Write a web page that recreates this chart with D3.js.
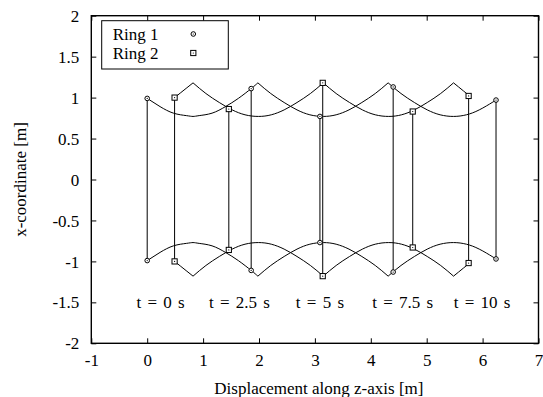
<!DOCTYPE html>
<html>
<head>
<meta charset="utf-8">
<script src="https://cdn.jsdelivr.net/npm/d3@7"></script>
<style>
  html, body { margin: 0; padding: 0; background: #fff; }
  svg { display: block; }
  svg text { font-family: 'Liberation Serif', 'DejaVu Serif', serif !important; }
</style>
</head>
<body>
<svg id="chart" width="543" height="397"></svg>
<script>
// ---------------- data ----------------
const xTicks = [-1, 0, 1, 2, 3, 4, 5, 6, 7];
const yTicks = [-2, -1.5, -1, -0.5, 0, 0.5, 1, 1.5, 2];
const seriesNames = ["Ring 1", "Ring 2"];

// ring positions (z, x) at t = 0, 2.5, 5, 7.5, 10 s
const ring1Z = [0.00, 1.86, 3.09, 4.40, 6.24];
const ring1Top = [0.99, 1.11, 0.77, 1.13, 0.97];
const ring1Bottom = [-0.99, -1.11, -0.77, -1.13, -0.97];
const ring2Z = [0.49, 1.46, 3.14, 4.75, 5.75];
const ring2Top = [1.00, 0.86, 1.18, 0.83, 1.02];
const ring2Bottom = [-1.00, -0.86, -1.18, -0.83, -1.02];

// time labels
const timeLabels = ["t = 0 s", "t = 2.5 s", "t = 5 s", "t = 7.5 s", "t = 10 s"];
const timeLabelZ = [0.24, 1.65, 3.09, 4.57, 5.99];
const timeLabelX = -1.5;

// trajectory of top/bottom points of each ring (segments split at cusps)
const ring1TrajZ = [
  [0.00, 0.23, 0.47, 0.70, 0.82, 0.93, 1.16, 1.40, 1.63, 1.86, 1.98],
  [1.98, 2.21, 2.45, 2.68, 2.91, 3.15, 3.38, 3.61, 3.84, 4.08, 4.31],
  [4.31, 4.54, 4.78, 5.01, 5.24, 5.48, 5.71, 5.94, 6.17, 6.24]
];
const ring1TrajTop = [
  [0.99, 0.89, 0.81, 0.78, 0.77, 0.78, 0.81, 0.89, 0.99, 1.11, 1.18],
  [1.18, 1.05, 0.94, 0.85, 0.79, 0.77, 0.79, 0.85, 0.94, 1.05, 1.18],
  [1.18, 1.05, 0.94, 0.85, 0.79, 0.77, 0.79, 0.85, 0.94, 0.97]
];
const ring1TrajBottom = [
  [-0.99, -0.89, -0.81, -0.78, -0.77, -0.78, -0.81, -0.89, -0.99, -1.11, -1.18],
  [-1.18, -1.05, -0.94, -0.85, -0.79, -0.77, -0.79, -0.85, -0.94, -1.05, -1.18],
  [-1.18, -1.05, -0.94, -0.85, -0.79, -0.77, -0.79, -0.85, -0.94, -0.97]
];
const ring2TrajZ = [
  [0.49, 0.60, 0.71, 0.82],
  [0.82, 1.05, 1.29, 1.52, 1.75, 1.99, 2.22, 2.45, 2.68, 2.92, 3.15],
  [3.15, 3.38, 3.62, 3.85, 4.08, 4.32, 4.55, 4.78, 5.01, 5.25, 5.48],
  [5.48, 5.57, 5.66, 5.75]
];
const ring2TrajTop = [
  [1.00, 1.06, 1.12, 1.18],
  [1.18, 1.05, 0.94, 0.85, 0.79, 0.77, 0.79, 0.85, 0.94, 1.05, 1.18],
  [1.18, 1.05, 0.94, 0.85, 0.79, 0.77, 0.79, 0.85, 0.94, 1.05, 1.18],
  [1.18, 1.13, 1.08, 1.03]
];
const ring2TrajBottom = [
  [-1.00, -1.06, -1.12, -1.18],
  [-1.18, -1.05, -0.94, -0.85, -0.79, -0.77, -0.79, -0.85, -0.94, -1.05, -1.18],
  [-1.18, -1.05, -0.94, -0.85, -0.79, -0.77, -0.79, -0.85, -0.94, -1.05, -1.18],
  [-1.18, -1.13, -1.08, -1.03]
];

// ---------------- drawing ----------------
const svg = d3.select("#chart");
const FONT = "'Liberation Serif', 'DejaVu Serif', serif";
const L = 91.3, R = 538.5, T = 15.7, B = 343.3;
const x = d3.scaleLinear().domain([-1, 7]).range([L, R]);
const y = d3.scaleLinear().domain([-2, 2]).range([B, T]);
const FS = 17;
const fmt = d => String(d);

// axes (ticks inward)
const gB = svg.append("g").attr("transform", `translate(0,${B})`)
  .call(d3.axisBottom(x).tickValues(xTicks).tickFormat(fmt).tickSizeInner(-5).tickSizeOuter(0));
gB.selectAll("text").attr("y", 17).attr("dy", "0.35em");
const gT = svg.append("g").attr("transform", `translate(0,${T})`)
  .call(d3.axisTop(x).tickValues(xTicks).tickFormat("").tickSizeInner(-5).tickSizeOuter(0));
const gL = svg.append("g").attr("transform", `translate(${L},0)`)
  .call(d3.axisLeft(y).tickValues(yTicks).tickFormat(fmt).tickSizeInner(-5).tickSizeOuter(0));
gL.selectAll("text").attr("x", -12).attr("dy", "0.33em");
const gR = svg.append("g").attr("transform", `translate(${R},0)`)
  .call(d3.axisRight(y).tickValues(yTicks).tickFormat("").tickSizeInner(-5).tickSizeOuter(0));
[gB, gT, gL, gR].forEach(g => {
  g.attr("font-family", FONT).attr("font-size", FS);
  g.select(".domain").remove();
  g.selectAll("line").attr("stroke", "#000").attr("stroke-width", 1);
  g.selectAll("text").attr("fill", "#000").attr("font-family", FONT).attr("font-size", FS);
});

// frame
svg.append("rect").attr("x", L).attr("y", T).attr("width", R - L).attr("height", B - T)
  .attr("fill", "none").attr("stroke", "#000").attr("stroke-width", 1.4);

// axis titles
svg.append("text").attr("x", (L + R) / 2 + 4).attr("y", 388).attr("dy", "0.35em")
  .attr("text-anchor", "middle").attr("font-family", FONT).attr("font-size", FS)
  .text("Displacement along z-axis [m]");
svg.append("text").attr("transform", `translate(20,${y(0)}) rotate(-90)`).attr("dy", "0.35em")
  .attr("text-anchor", "middle").attr("font-family", FONT).attr("font-size", FS)
  .text("x-coordinate [m]");

// trajectories
const line = d3.line().x(d => x(d[0])).y(d => y(d[1])).curve(d3.curveNatural);
const traj = [
  [ring1TrajZ, ring1TrajTop], [ring1TrajZ, ring1TrajBottom],
  [ring2TrajZ, ring2TrajTop], [ring2TrajZ, ring2TrajBottom]
];
traj.forEach(([zs, xs]) => {
  zs.forEach((seg, i) => {
    svg.append("path").datum(seg.map((z, j) => [z, xs[i][j]]))
      .attr("d", line).attr("fill", "none").attr("stroke", "#000").attr("stroke-width", 1);
  });
});

// vertical connecting lines
const rings = [
  { z: ring1Z, top: ring1Top, bot: ring1Bottom, shape: "circle" },
  { z: ring2Z, top: ring2Top, bot: ring2Bottom, shape: "square" }
];
rings.forEach(r => {
  svg.append("g").selectAll("line").data(r.z).join("line")
    .attr("x1", d => x(d)).attr("x2", d => x(d))
    .attr("y1", (d, i) => y(r.top[i])).attr("y2", (d, i) => y(r.bot[i]))
    .attr("stroke", "#000").attr("stroke-width", 1);
});

function marker(g, shape, cx, cy) {
  if (shape === "circle") {
    g.append("circle").attr("cx", cx).attr("cy", cy).attr("r", 2.3)
      .attr("fill", "#fff").attr("stroke", "#000").attr("stroke-width", 1);
  } else {
    g.append("rect").attr("x", cx - 2.6).attr("y", cy - 2.6).attr("width", 5.2).attr("height", 5.2)
      .attr("fill", "#fff").attr("stroke", "#000").attr("stroke-width", 1);
  }
  g.append("circle").attr("cx", cx).attr("cy", cy).attr("r", 0.6).attr("fill", "#000");
}
rings.forEach(r => {
  const g = svg.append("g");
  r.z.forEach((z, i) => {
    marker(g, r.shape, x(z), y(r.top[i]));
    marker(g, r.shape, x(z), y(r.bot[i]));
  });
});

// time labels
svg.append("g").selectAll("text").data(timeLabels).join("text")
  .attr("x", (d, i) => x(timeLabelZ[i])).attr("y", y(timeLabelX)).attr("dy", "0.35em")
  .attr("text-anchor", "middle").attr("font-family", FONT).attr("font-size", FS)
  .attr("word-spacing", 2)
  .text(d => d);

// legend
const lg = svg.append("g");
lg.append("rect").attr("x", 101.7).attr("y", 20.7).attr("width", 126.6).attr("height", 48.3)
  .attr("fill", "#fff").attr("stroke", "#000").attr("stroke-width", 1);
seriesNames.forEach((name, i) => {
  const cy = 34 + i * 19;
  lg.append("text").attr("x", 112.7).attr("y", cy).attr("dy", "0.35em")
    .attr("font-family", FONT).attr("font-size", FS).text(name);
  marker(lg, rings[i].shape, 193.3, cy);
});
</script>
</body>
</html>
